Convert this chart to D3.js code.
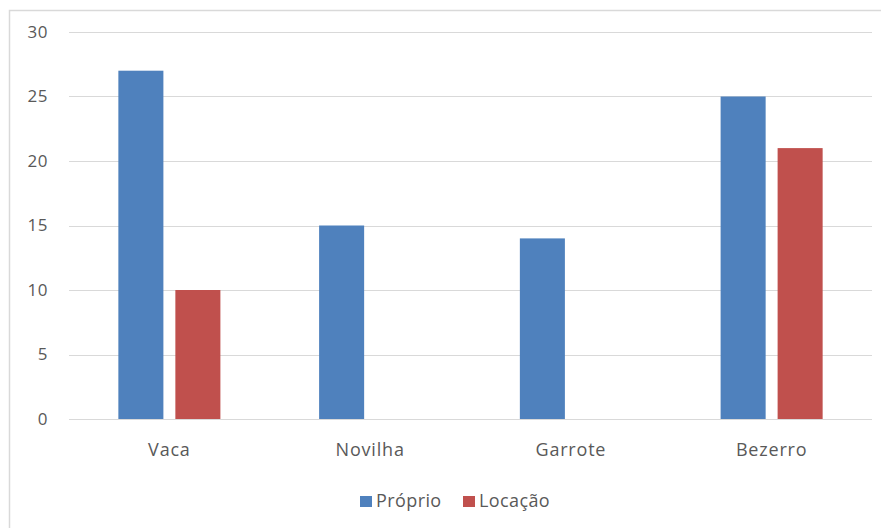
<!DOCTYPE html>
<html>
<head>
<meta charset="utf-8">
<script src="https://cdn.jsdelivr.net/npm/d3@7"></script>
<style>
  html, body { margin: 0; padding: 0; background: #fff; }
  svg { display: block; font-family: "Open Sans", "DejaVu Sans", sans-serif; }
</style>
</head>
<body>
<svg id="chart" width="881" height="528"></svg>
<script>
// Animal categories and herd counts by ownership type
const categories = ["Vaca", "Novilha", "Garrote", "Bezerro"];
const seriesNames = ["Próprio", "Locação"];
const proprio = [27, 15, 14, 25];
const locacao = [10, 0, 0, 21];
const yTicks = [0, 5, 10, 15, 20, 25, 30];
const colors = ["#4f81bd", "#c0504d"];

const svg = d3.select("#chart");
const W = 881, H = 528;
const textColor = "#595959";
const font = "'Open Sans', sans-serif";

// Outer chart frame
svg.append("rect")
  .attr("x", 9.5).attr("y", 10.5)
  .attr("width", W + 10).attr("height", H + 10)
  .attr("fill", "#fff").attr("stroke", "#d9d9d9").attr("stroke-width", 1.5);

const plot = { left: 69, right: 872, top: 32, bottom: 419 };

const x = d3.scaleBand().domain(categories).range([plot.left, plot.right]);
const xs = d3.scaleBand().domain(seriesNames).range([0, x.bandwidth()])
  .paddingInner(0.21).paddingOuter(0.866);
const y = d3.scaleLinear().domain([0, 30]).range([plot.bottom, plot.top]);

// Horizontal gridlines
svg.append("g")
  .selectAll("line")
  .data(yTicks)
  .join("line")
  .attr("x1", plot.left).attr("x2", plot.right)
  .attr("y1", d => Math.round(y(d)) + 0.5).attr("y2", d => Math.round(y(d)) + 0.5)
  .attr("stroke", "#d9d9d9").attr("stroke-width", 1.2);

// Y axis labels
const yAxis = d3.axisLeft(y).tickValues(yTicks).tickSize(0).tickPadding(0);
const yg = svg.append("g").attr("transform", `translate(${plot.left - 21},0)`).call(yAxis);
yg.select(".domain").remove();
yg.selectAll("text").attr("font-size", 17).attr("fill", textColor)
  .attr("font-family", font).attr("letter-spacing", 0.5);

// Bars
const data = categories.map((c, i) => ({ cat: c, values: [proprio[i], locacao[i]] }));
const groups = svg.append("g").selectAll("g")
  .data(data).join("g")
  .attr("transform", d => `translate(${x(d.cat)},0)`);
groups.selectAll("rect")
  .data(d => d.values.map((v, j) => ({ series: seriesNames[j], v, j })))
  .join("rect")
  .attr("x", d => xs(d.series))
  .attr("width", xs.bandwidth())
  .attr("y", d => y(d.v))
  .attr("height", d => y(0) - y(d.v))
  .attr("fill", d => colors[d.j]);

// X axis labels
const xAxis = d3.axisBottom(x).tickSize(0).tickPadding(0);
const xg = svg.append("g").attr("transform", `translate(0,${plot.bottom + 37})`).call(xAxis);
xg.select(".domain").remove();
xg.selectAll("text").attr("font-size", 18).attr("fill", textColor).attr("dy", 0)
  .attr("font-family", font).attr("letter-spacing", 0.8);

// Legend
const legend = svg.append("g").attr("transform", "translate(360,496)");
const legendX = [0, 103];
seriesNames.forEach((name, i) => {
  const g = legend.append("g").attr("transform", `translate(${legendX[i]},0)`);
  g.append("rect").attr("x", 0).attr("y", 0).attr("width", 12).attr("height", 11).attr("fill", colors[i]);
  g.append("text").attr("x", 16).attr("y", 11).text(name)
    .attr("font-size", 18).attr("fill", textColor)
    .attr("font-family", font).attr("letter-spacing", 0.4);
});
</script>
</body>
</html>
